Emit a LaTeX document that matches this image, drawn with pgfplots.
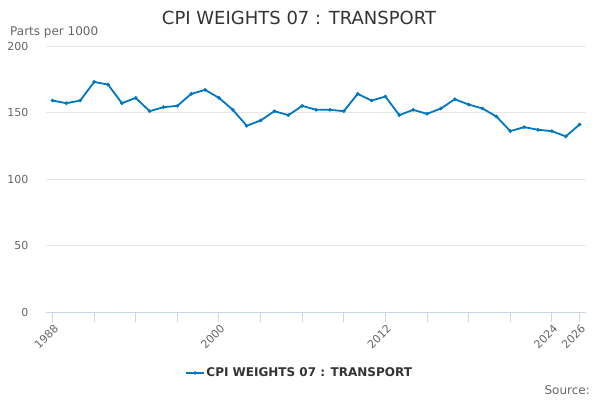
\documentclass[border=0pt]{standalone}
\usepackage{pgfplots}
\pgfplotsset{compat=1.18}
\usepackage{fontspec}
\setmainfont{DejaVu Sans}
\definecolor{serieblue}{RGB}{0,119,192}
\definecolor{axgrey}{RGB}{102,102,102}
\definecolor{gridgrey}{RGB}{230,230,230}
\definecolor{axisline}{RGB}{204,214,235}
\definecolor{titlegrey}{RGB}{51,51,51}
\begin{document}
\begin{tikzpicture}[x=1pt,y=1pt]
\path[use as bounding box] (0,0) rectangle (600,400);
\begin{axis}[
  at={(46pt,88pt)}, anchor=south west,
  scale only axis, width=540pt, height=266pt,
  xmin=1987.53, xmax=2026.46, ymin=0, ymax=200,
  axis x line*=bottom, axis y line*=left,
  y axis line style={draw=none},
  x axis line style={draw=axisline, line width=1pt},
  ytick={0,50,100,150,200},
  ytick style={draw=none},
  ymajorgrids, grid style={draw=gridgrey, line width=0.8pt},
  xtick={1988,1991,1994,1997,2000,2003,2006,2009,2012,2015,2018,2021,2024,2026},
  xticklabels={1988,,,,2000,,,,2012,,,,2024,2026},
  xtick style={draw=axisline, line width=1pt},
  tick align=outside, major tick length=10pt,
  /pgf/number format/assume math mode=true,
  /pgf/number format/1000 sep={},
  yticklabel style={font=\fontsize{11}{13}\selectfont, text=axgrey, xshift=-4pt},
  xticklabel style={font=\fontsize{11}{13}\selectfont, text=axgrey, rotate=45, anchor=north east, xshift=3pt, yshift=2pt},
  legend style={at={(0.47,-0.229)}, anchor=center, draw=none, fill=none,
    font=\fontsize{12}{14}\selectfont\bfseries, text=titlegrey},
  legend image post style={mark size=1.5pt},
  legend cell align=left,
  clip=false,
]
\addplot[serieblue, line width=1.8pt, mark=*, mark size=1.6pt, mark options={fill=serieblue, draw=serieblue, line width=0.5pt}] coordinates {
(1988,159) (1989,157) (1990,159) (1991,173) (1992,171) (1993,157) (1994,161)
(1995,151) (1996,154) (1997,155) (1998,164) (1999,167) (2000,161) (2001,152)
(2002,140) (2003,144) (2004,151) (2005,148) (2006,155) (2007,152) (2008,152)
(2009,151) (2010,164) (2011,159) (2012,162) (2013,148) (2014,152) (2015,149)
(2016,153) (2017,160) (2018,156) (2019,153) (2020,147) (2021,136) (2022,139)
(2023,137) (2024,136) (2025,132) (2026,141)
};
\addlegendentry{CPI WEIGHTS 07 : TRANSPORT}
\end{axis}
\node[anchor=center, font=\fontsize{18}{21}\selectfont, text=titlegrey] at (299,382) {CPI WEIGHTS 07 : TRANSPORT};
\node[anchor=west, font=\fontsize{12}{14}\selectfont, text=axgrey, inner sep=0pt] at (10,368) {Parts per 1000};
\node[anchor=east, font=\fontsize{12}{14}\selectfont, text=axgrey, inner sep=0pt] at (590,10) {Source:};
\end{tikzpicture}
\end{document}
